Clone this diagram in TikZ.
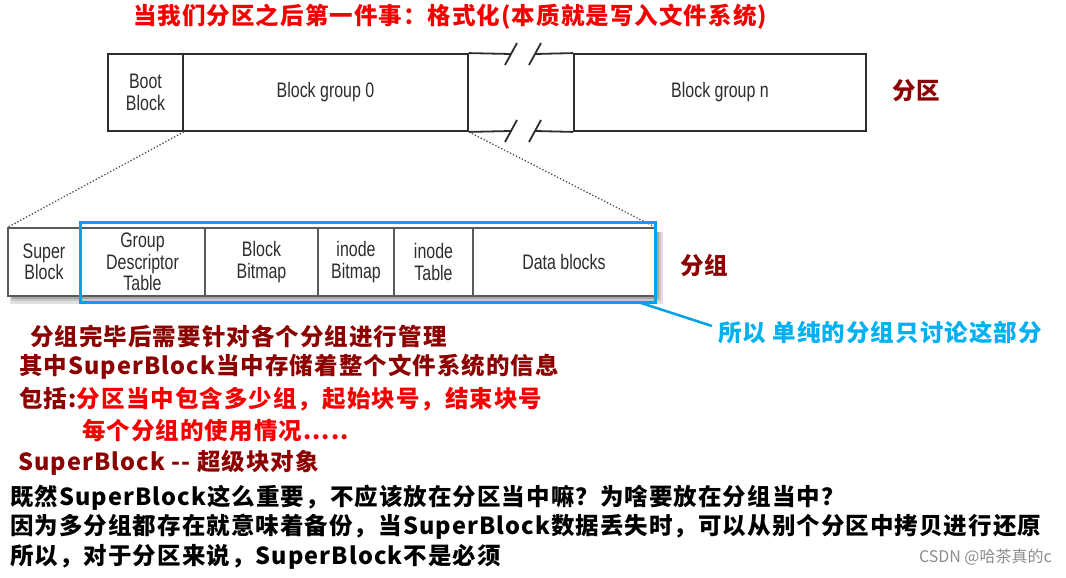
\documentclass[tikz,border=0pt]{standalone}
\usepackage{fontspec}
\setmainfont{Liberation Sans}
\newfontfamily\cjk{Noto Sans CJK SC}[LetterSpace=4.5]
\newfontfamily\cjkplain{Noto Sans CJK SC}
\newfontfamily\diagfont{Liberation Sans}[FakeStretch=0.76]
\definecolor{darkred}{RGB}{140,0,0}
\definecolor{brightred}{RGB}{245,0,0}
\definecolor{selblue}{RGB}{0,162,232}
\definecolor{lblue}{RGB}{0,176,240}
\definecolor{linegray}{RGB}{45,45,45}
\definecolor{textgray}{RGB}{45,45,45}
\definecolor{cellgray}{RGB}{90,90,90}
\tikzset{
  topcell/.style={draw=linegray, line width=1.8pt, minimum height=77pt, inner sep=0pt,
    font=\diagfont\fontsize{21}{22}\selectfont, text=textgray, align=center, fill=white},
  lowcell/.style={draw=cellgray, line width=1.2pt, minimum height=68pt, inner sep=0pt,
    font=\diagfont\fontsize{21}{21.5}\selectfont, text=textgray, align=center, fill=white},
  note/.style={anchor=west, inner sep=0pt, font=\cjk\bfseries\fontsize{23.5}{28}\selectfont},
  breakline/.style={draw=linegray, line width=1.8pt},
  zoomline/.style={dotted, black!70, line width=1.3pt},
}
\begin{document}
\begin{tikzpicture}[x=1pt,y=-1pt]
\useasboundingbox (0,0) rectangle (1066,578);
\fill[white] (0,0) rectangle (1066,578);

% title
\node[note, text=brightred] (title) at (133,17) {当我们分区之后第一件事：格式化(本质就是写入文件系统)};

% partition bar
\node[topcell, minimum width=75pt] (boot) at (145.5,92.5) {Boot\\Block};
\node[topcell, minimum width=285pt] (bg0) at (325.5,92.5) {Block group 0};
\node[topcell, minimum width=292pt] (bgn) at (720,92.5) {Block group n};
\coordinate (tb1) at (511,54);
\coordinate (tb2) at (535,54);
\coordinate (bb1) at (511,131);
\coordinate (bb2) at (535,131);
\draw[breakline] (bg0.north east) -- (tb1);
\draw[breakline] (tb2) -- (bgn.north west);
\draw[breakline] (bg0.south east) -- (bb1);
\draw[breakline] (bb2) -- (bgn.south west);
\draw[breakline] (505,65) -- (517,43);
\draw[breakline] (529,65) -- (541,43);
\draw[breakline] (505,142) -- (517,120);
\draw[breakline] (529,142) -- (541,120);
\node[note, text=darkred] (fenqu) at (892,91) {分区};

% shadow of group bar
\fill[black!12] (10,232) rectangle (663,304);
\fill[black!22] (11,232) rectangle (661,301);
\fill[black!35] (12,232) rectangle (659,299);

% group bar
\node[lowcell, minimum width=72pt] (sb) at (44,262) {Super\\Block};
\node[lowcell, minimum width=125pt] (gdt) at (142.5,262) {Group\\Descriptor\\Table};
\node[lowcell, minimum width=113pt] (bbm) at (261.5,262) {Block\\Bitmap};
\node[lowcell, minimum width=76pt] (ibm) at (356,262) {inode\\Bitmap};
\node[lowcell, minimum width=79pt] (itb) at (433.5,262) {inode\\Table};
\node[lowcell, minimum width=182pt] (db) at (564,262) {Data blocks};

% zoom lines
\draw[zoomline] (boot.south east) -- (sb.north west);
\draw[zoomline] (bg0.south east) -- (db.north east);

% selection box
\node[draw=selblue, line width=3pt, minimum width=575pt, minimum height=80pt, inner sep=0pt] (sel) at (367.5,262) {};
\coordinate (selc) at (638,302);
\coordinate (lblc) at (712,326);
\draw[selblue, line width=2.5pt] (selc) -- (lblc);
\node[note, text=lblue] (sellbl) at (718,333) {所以 单纯的分组只讨论这部分};
\node[note, text=darkred] (fenzu) at (680,266) {分组};

% notes
\node[note, text=darkred] (n1) at (30,337) {分组完毕后需要针对各个分组进行管理};
\node[note, text=darkred] (n2) at (19,367) {其中SuperBlock当中存储着整个文件系统的信息};
\node[note, text=darkred] (n3a) at (19,399) {包括:};
\node[note, text=brightred, anchor=west] (n3b) at (n3a.east) {分区当中包含多少组，起始块号，结束块号};
\node[note, text=brightred] (n4) at (82,431) {每个分组的使用情况.....};
\node[note, text=darkred] (n5) at (18,463) {SuperBlock -- 超级块对象};

\node[note, text=black] (q1) at (10,498) {既然SuperBlock这么重要，不应该放在分区当中嘛？为啥要放在分组当中？};
\node[note, text=black] (q2) at (10,527) {因为多分组都存在就意味着备份，当SuperBlock数据丢失时，可以从别个分区中拷贝进行还原};
\node[note, text=black] (q3) at (10,557) {所以，对于分区来说，SuperBlock不是必须};

\node[anchor=east, inner sep=0pt, font=\cjkplain\fontsize{16}{18}\selectfont, text=black!45] (wm) at (1052,557) {CSDN @哈茶真的c};
\end{tikzpicture}
\end{document}
